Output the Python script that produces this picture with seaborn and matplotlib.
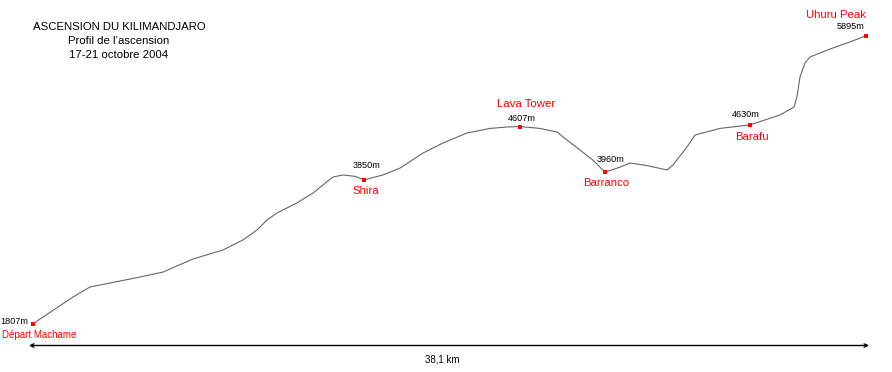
import matplotlib
matplotlib.use("Agg")
import matplotlib.pyplot as plt
import seaborn as sns
import pandas as pd
from matplotlib.transforms import blended_transform_factory, ScaledTranslation

# ---- data ----
profile_km = [0.00, 1.83, 2.61, 3.52, 4.89, 5.95, 7.32, 8.69, 9.60, 10.25,
              10.70, 11.16, 12.07, 12.81, 13.26, 13.72, 14.18, 14.73, 15.14,
              16.01, 16.79, 17.84, 18.75, 19.85, 20.90, 21.68, 22.27, 23.19,
              23.97, 24.42, 25.02, 25.61, 26.16, 26.85, 27.31, 28.13, 29.00,
              29.27, 29.91, 30.28, 31.42, 32.79, 34.17, 34.81, 34.94, 35.08,
              35.31, 35.54, 36.45, 37.37, 38.10]
profile_alt = [1807, 2188, 2330, 2386, 2471, 2542, 2727, 2855, 2997, 3139,
               3280, 3380, 3522, 3664, 3777, 3891, 3919, 3900, 3850,
               3920, 4018, 4231, 4373, 4515, 4580, 4600, 4607, 4580,
               4529, 4416, 4274, 4130, 3960, 4030, 4090, 4050, 3990,
               4061, 4316, 4487, 4580, 4630, 4771, 4884, 5026, 5310,
               5509, 5594, 5707, 5807, 5895]

stop_names = ["Départ Machame", "Shira", "Lava Tower", "Barranco", "Barafu", "Uhuru Peak"]
stop_km = [0.00, 15.14, 22.27, 26.16, 32.79, 38.10]
stop_alt = [1807, 3850, 4607, 3960, 4630, 5895]

title_lines = ["ASCENSION DU KILIMANDJARO", "Profil de l\u2019ascension", "17-21 octobre 2004"]
total_label = "38,1 km"

# ---- style ----
sns.set_style("white")
plt.rcParams['font.family'] = ['Liberation Sans', 'DejaVu Sans']

W, H = 892, 372
fig = plt.figure(figsize=(W / 100, H / 100), dpi=100)
ax = fig.add_axes([0, 0, 1, 1])

prof = pd.DataFrame({"km": profile_km, "alt": profile_alt})
sns.lineplot(data=prof, x="km", y="alt", ax=ax, color="#666666", lw=0.8,
             sort=False, estimator=None)
stops = pd.DataFrame({"km": stop_km, "alt": stop_alt, "name": stop_names})
sns.scatterplot(data=stops, x="km", y="alt", ax=ax, color="#ff0000", s=9,
                marker="s", linewidth=0, zorder=3)

ax.set_xlim(-1.509, 39.289)
ax.set_ylim(1123.2, 6402.6)
ax.axis("off")

# label layout: (value dx, dy, ha) and (name dx, dy, ha, size) in pixels
layout = [
    ((-5, -2, "right"), (-31, 11, "left", 7.0)),
    ((3, -14, "center"), (2, 11, "center", 8.2)),
    ((2, -8, "center"), (6, -23, "center", 8.2)),
    ((6, -13, "center"), (1, 11, "center", 8.2)),
    ((-4, -10, "center"), (2, 12, "center", 8.2)),
    ((-1, -9.5, "right"), (0, -21, "right", 8.2)),
]
px = 0.72
for (km, alt, name), (v, n) in zip(zip(stop_km, stop_alt, stop_names), layout):
    ax.annotate(f"{alt}m", xy=(km, alt), xytext=(v[0] * px, -v[1] * px),
                textcoords="offset points", ha=v[2], va="center",
                fontsize=6.6, color="black")
    ax.annotate(name, xy=(km, alt), xytext=(n[0] * px, -n[1] * px),
                textcoords="offset points", ha=n[2], va="center",
                fontsize=n[3], color="#ff0000")

# title
for i, line in enumerate(title_lines):
    fig.text(119 / W, 1 - (27 + 14 * i) / H, line, ha="center", va="center",
             fontsize=8.2, color="black")

# distance arrow (extends a few pixels beyond the route ends)
trans = blended_transform_factory(ax.transData, ax.transAxes)
left_t = trans + ScaledTranslation(-4 / 100, 0, fig.dpi_scale_trans)
right_t = trans + ScaledTranslation(3 / 100, 0, fig.dpi_scale_trans)
ya = 1 - 345.5 / H
ax.annotate("", xy=(stop_km[-1], ya), xytext=(stop_km[0], ya),
            xycoords=right_t, textcoords=left_t,
            arrowprops=dict(arrowstyle="<->", color="black", lw=1.0,
                            shrinkA=0, shrinkB=0, mutation_scale=6))
fig.text(442 / W, 1 - 359.5 / H, total_label, ha="center", va="center",
         fontsize=7, color="black")

fig.savefig("out.png", dpi=100)
